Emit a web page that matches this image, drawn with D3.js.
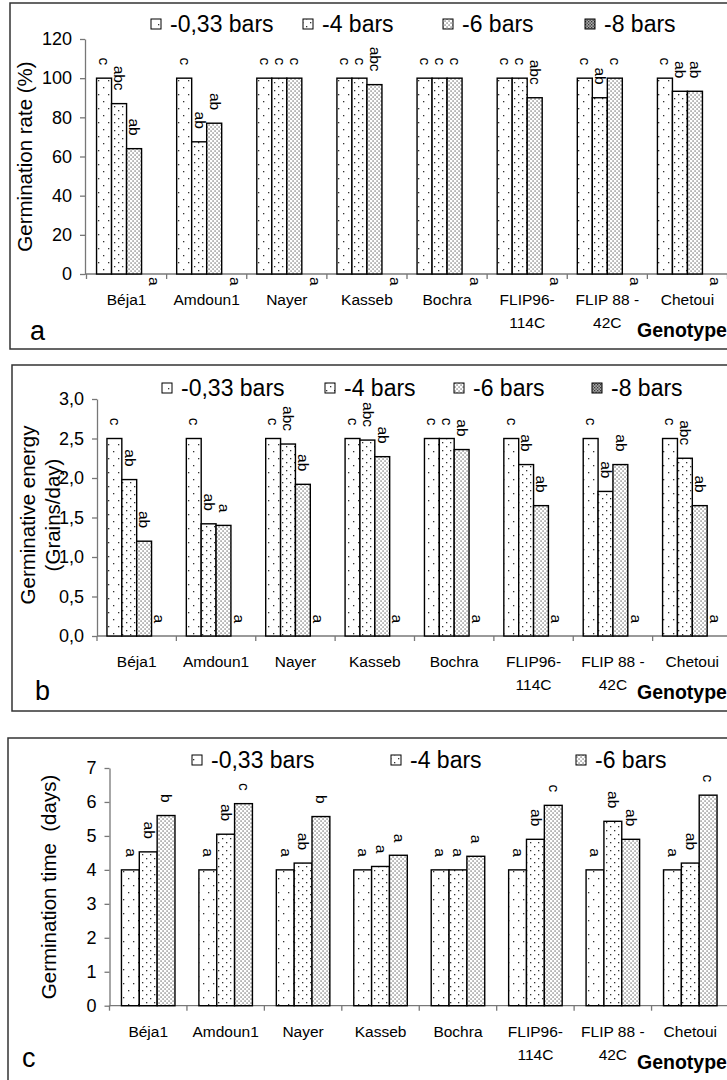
<!DOCTYPE html>
<html>
<head>
<meta charset="utf-8">
<script src="https://cdn.jsdelivr.net/npm/d3@7"></script>
<style>
  body { margin: 0; background: #fff; }
  svg text { font-family: "Liberation Sans", Arial, sans-serif; fill: #000; }
</style>
</head>
<body>
<div id="chart"></div>
<script>
// categories
const genotypes = ["Béja1", "Amdoun1", "Nayer", "Kasseb", "Bochra", "FLIP96-114C", "FLIP 88 -42C", "Chetoui"];
const genotypeLines = [["Béja1"], ["Amdoun1"], ["Nayer"], ["Kasseb"], ["Bochra"], ["FLIP96-", "114C"], ["FLIP 88 -", "42C"], ["Chetoui"]];
const treatments = ["-0,33 bars", "-4 bars", "-6 bars", "-8 bars"];

// a : germination rate (%)
const rate033 = [100, 100, 100, 100, 100, 100, 100, 100];
const rate4 = [87, 67.5, 100, 100, 100, 100, 90, 93.3];
const rate6 = [64, 77, 100, 96.7, 100, 90, 100, 93.3];
const rate8 = [0, 0, 0, 0, 0, 0, 0, 0];
const rateLetters033 = ["c", "c", "c", "c", "c", "c", "c", "c"];
const rateLetters4 = ["abc", "ab", "c", "c", "c", "c", "ab", "ab"];
const rateLetters6 = ["ab", "ab", "c", "abc", "c", "abc", "c", "ab"];
const rateLetters8 = ["a", "a", "a", "a", "a", "a", "a", "a"];
const rateTicks = [0, 20, 40, 60, 80, 100, 120];

// b : germinative energy (grains/day)
const energy033 = [2.5, 2.5, 2.5, 2.5, 2.5, 2.5, 2.5, 2.5];
const energy4 = [1.98, 1.42, 2.43, 2.48, 2.5, 2.17, 1.83, 2.25];
const energy6 = [1.2, 1.4, 1.92, 2.27, 2.36, 1.65, 2.17, 1.65];
const energy8 = [0, 0, 0, 0, 0, 0, 0, 0];
const energyLetters033 = ["c", "c", "c", "c", "c", "c", "c", "c"];
const energyLetters4 = ["ab", "ab", "abc", "abc", "c", "ab", "ab", "abc"];
const energyLetters6 = ["ab", "a", "ab", "ab", "ab", "ab", "ab", "ab"];
const energyLetters8 = ["a", "a", "a", "a", "a", "a", "a", "a"];
const energyTicks = [0, 0.5, 1, 1.5, 2, 2.5, 3];

// c : germination time (days)
const time033 = [4, 4, 4, 4, 4, 4, 4, 4];
const time4 = [4.53, 5.05, 4.2, 4.1, 4.0, 4.9, 5.43, 4.2];
const time6 = [5.6, 5.95, 5.57, 4.43, 4.4, 5.9, 4.9, 6.2];
const timeLetters033 = ["a", "a", "a", "a", "a", "a", "a", "a"];
const timeLetters4 = ["ab", "ab", "ab", "a", "a", "ab", "ab", "ab"];
const timeLetters6 = ["b", "c", "b", "a", "a", "c", "ab", "c"];
const timeTicks = [0, 1, 2, 3, 4, 5, 6, 7];

const W = 727, H = 1080;
const svg = d3.select("#chart").append("svg")
  .attr("width", W).attr("height", H)
  .attr("viewBox", `0 0 ${W} ${H}`);
svg.append("rect").attr("width", W).attr("height", H).attr("fill", "#fff");

/** PATTERNS */
const defs = svg.append("defs");
function dotPattern(id, w, h, dots, size, bg) {
  const p = defs.append("pattern").attr("id", id)
    .attr("patternUnits", "userSpaceOnUse").attr("width", w).attr("height", h);
  p.append("rect").attr("width", w).attr("height", h).attr("fill", bg || "#fff");
  dots.forEach(([x, y]) => {
    p.append("rect").attr("x", x).attr("y", y).attr("width", size).attr("height", size).attr("fill", "#333");
  });
}
dotPattern("p0", 10, 14, [[3, 3], [8, 10]], 1.3);
dotPattern("p1", 8, 8, [[2, 2], [6, 6]], 1.3);
dotPattern("p2", 4, 4, [[0.5, 0.5], [2.5, 2.5]], 1.1);
dotPattern("p3", 3, 3, [[0, 0], [1.5, 1.5]], 1.3, "#aaa");
const fills = ["url(#p0)", "url(#p1)", "url(#p2)", "url(#p3)"];

const commaFmt = d3.formatLocale({ decimal: ",", thousands: ".", grouping: [3], currency: ["", ""] }).format(".1f");

function drawPanel(cfg) {
  const g = svg.append("g");

  // panel frame
  g.append("rect")
    .attr("x", cfg.box[0]).attr("y", cfg.box[1])
    .attr("width", 760).attr("height", cfg.box[2])
    .attr("fill", "none").attr("stroke", "#333").attr("stroke-width", 1.5);

  const y = d3.scaleLinear().domain(cfg.domain).range(cfg.yRange);
  const x = d3.scaleBand().domain(genotypes).range(cfg.bandRange);
  const xs = d3.scaleBand().domain(d3.range(cfg.series.length))
    .range([0, x.bandwidth()]).paddingOuter(0.67);
  const y0 = y(0);

  // y axis
  const yAxis = d3.axisLeft(y).tickValues(cfg.ticks).tickSize(5).tickSizeOuter(0)
    .tickPadding(8).tickFormat(cfg.format);
  const ya = g.append("g").attr("transform", `translate(${cfg.axisX},0)`).call(yAxis);
  ya.select(".domain").attr("stroke", "#777").attr("stroke-width", 1.3);
  ya.selectAll(".tick line").attr("stroke", "#777").attr("stroke-width", 1.3);
  ya.selectAll(".tick text").attr("font-size", 18).attr("fill", "#000")
    .attr("font-family", "Liberation Sans, Arial, sans-serif");

  // x axis line + boundary ticks
  g.append("line").attr("x1", cfg.axisX).attr("x2", 740).attr("y1", y0).attr("y2", y0)
    .attr("stroke", "#777").attr("stroke-width", 1.3);
  const bounds = genotypes.map((d) => x(d)).concat([x.range()[1]]);
  g.selectAll(".xtick").data(bounds).join("line")
    .attr("x1", (d) => d).attr("x2", (d) => d)
    .attr("y1", y0).attr("y2", y0 + 5)
    .attr("stroke", "#777").attr("stroke-width", 1.3);

  // category labels
  const cat = g.selectAll(".cat").data(genotypes).join("text")
    .attr("text-anchor", "middle").attr("font-size", 15.5)
    .attr("x", (d) => x(d) + x.bandwidth() / 2)
    .attr("y", y0 + 31);
  cat.selectAll("tspan").data((d, i) => genotypeLines[i]).join("tspan")
    .attr("x", function () { return d3.select(this.parentNode).attr("x"); })
    .attr("dy", (d, i) => (i === 0 ? 0 : 23))
    .text((d) => d);

  g.append("text").attr("x", 637).attr("y", y0 + 63)
    .attr("font-size", 19.5).attr("font-weight", "bold").text("Genotype");

  // bars
  const cells = [];
  cfg.series.forEach((vals, s) => {
    vals.forEach((v, i) => {
      cells.push({ s, g: genotypes[i], v, label: cfg.letters[s][i] });
    });
  });
  g.selectAll(".bar").data(cells.filter((d) => d.v > 0)).join("rect")
    .attr("x", (d) => x(d.g) + xs(d.s))
    .attr("y", (d) => y(d.v))
    .attr("width", xs.bandwidth())
    .attr("height", (d) => y0 - y(d.v))
    .attr("fill", (d) => fills[d.s])
    .attr("stroke", "#000").attr("stroke-width", 1.4);

  // significance letters
  g.selectAll(".lab").data(cells).join("text")
    .attr("font-size", 15.5)
    .attr("text-anchor", (d) => (d.v === 0 && cfg.zeroBelow ? "start" : "end"))
    .attr("dy", "0.3em")
    .attr("transform", (d) => {
      const cx = x(d.g) + xs(d.s) + xs.bandwidth() / 2;
      if (d.v === 0 && cfg.zeroBelow) return `translate(${cx + 5},${y0 + 3}) rotate(90)`;
      return `translate(${cx},${y(d.v) - 13}) rotate(90)`;
    })
    .text((d) => d.label);

  // y title
  cfg.title.forEach((t) => {
    g.append("text")
      .attr("transform", `translate(${t.x},${cfg.titleY}) rotate(-90)`)
      .attr("text-anchor", "middle").attr("font-size", 20.5)
      .style("white-space", "pre")
      .text(t.text);
  });

  // legend
  cfg.series.forEach((vals, s) => {
    const lx = cfg.legendX[s];
    g.append("rect").attr("x", lx).attr("y", cfg.legendY - 5)
      .attr("width", 10).attr("height", 10)
      .attr("fill", fills[s]).attr("stroke", "#000").attr("stroke-width", 1);
    g.append("text").attr("x", lx + 19).attr("y", cfg.legendY + 8)
      .attr("font-size", 23).text(treatments[s]);
  });

  // panel letter
  g.append("text").attr("x", cfg.tag[1]).attr("y", cfg.tag[2])
    .attr("font-size", 27).text(cfg.tag[0]);
}

drawPanel({
  box: [10, 3, 346],
  axisX: 85, bandRange: [86.5, 727.5],
  domain: [0, 120], yRange: [274, 39], ticks: rateTicks, format: d3.format("d"),
  series: [rate033, rate4, rate6, rate8],
  letters: [rateLetters033, rateLetters4, rateLetters6, rateLetters8],
  zeroBelow: true,
  title: [{ text: "Germination rate (%)", x: 32 }], titleY: 156.5,
  legendX: [151, 303, 443, 585], legendY: 24,
  tag: ["a", 30, 340]
});

drawPanel({
  box: [12, 365, 346],
  axisX: 97, bandRange: [97, 732],
  domain: [0, 3], yRange: [636, 399], ticks: energyTicks, format: commaFmt,
  series: [energy033, energy4, energy6, energy8],
  letters: [energyLetters033, energyLetters4, energyLetters6, energyLetters8],
  zeroBelow: false,
  title: [{ text: "Germinative energy", x: 35 }, { text: "(Grains/day)", x: 60 }], titleY: 515,
  legendX: [162, 325, 454, 592], legendY: 388,
  tag: ["b", 35, 700]
});

drawPanel({
  box: [8, 738, 400],
  axisX: 109.5, bandRange: [109.5, 729],
  domain: [0, 7], yRange: [1005.7, 768], ticks: timeTicks, format: d3.format("d"),
  series: [time033, time4, time6],
  letters: [timeLetters033, timeLetters4, timeLetters6],
  zeroBelow: false,
  title: [{ text: "Germination time  (days)", x: 56 }], titleY: 887,
  legendX: [192, 391, 576], legendY: 760,
  tag: ["c", 22, 1067]
});
</script>
</body>
</html>
